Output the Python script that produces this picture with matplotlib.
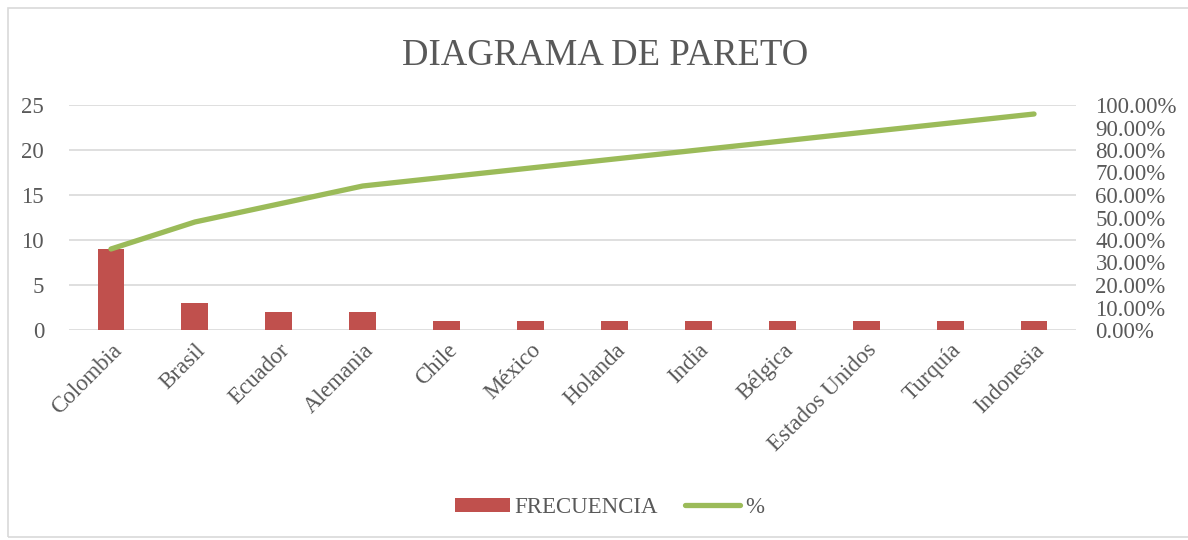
import matplotlib.pyplot as plt
from matplotlib.patches import Rectangle

# Datos del diagrama
paises = ["Colombia", "Brasil", "Ecuador", "Alemania", "Chile", "México",
          "Holanda", "India", "Bélgica", "Estados Unidos", "Turquía", "Indonesia"]
frecuencia = [9, 3, 2, 2, 1, 1, 1, 1, 1, 1, 1, 1]
porcentaje = [0.36, 0.48, 0.56, 0.64, 0.68, 0.72, 0.76, 0.80, 0.84, 0.88, 0.92, 0.96]

gris = "#595959"
plt.rcParams["font.family"] = ["Liberation Serif", "DejaVu Serif"]

fig = plt.figure(figsize=(11.88, 5.4), dpi=100)
fig.patches.append(Rectangle((8 / 1188, 3 / 540), 1.0, 529 / 540, transform=fig.transFigure,
                             fill=False, edgecolor="#D9D9D9", linewidth=1.2))

ax = fig.add_axes([69 / 1188, 210 / 540, 1007 / 1188, 225 / 540])
x = range(len(paises))
ax.bar(x, frecuencia, width=0.32, color="#C0504D", label="FRECUENCIA", zorder=2)
ax.set_ylim(0, 25)
ax.set_xlim(-0.5, len(paises) - 0.5)
ax.set_yticks([0, 5, 10, 15, 20, 25])
ax.grid(axis="y", color="#D9D9D9", linewidth=1.2, zorder=0)
ax.set_xticks(list(x))
ax.set_xticklabels(paises, rotation=45, ha="right", rotation_mode="anchor")
for s in ax.spines.values():
    s.set_visible(False)
ax.tick_params(length=0, labelsize=16.5, colors=gris, pad=7)
ax.tick_params(axis="y", pad=18)

ax2 = ax.twinx()
ax2.plot(x, porcentaje, color="#9BBB59", linewidth=3.8, solid_capstyle="round", label="%", zorder=3)
ax2.set_ylim(0, 1.0)
ax2.set_yticks([i / 10 for i in range(11)])
ax2.set_yticklabels([f"{i * 10:.2f}%" for i in range(11)])
for s in ax2.spines.values():
    s.set_visible(False)
ax2.tick_params(length=0, labelsize=16.5, colors=gris, pad=14)

fig.text(0.509, 0.897, "DIAGRAMA DE PARETO", ha="center", va="center", fontsize=26.5, color=gris)

h1, l1 = ax.get_legend_handles_labels()
h2, l2 = ax2.get_legend_handles_labels()
fig.legend(h1 + h2, l1 + l2, loc="center", bbox_to_anchor=(0.513, 0.06), ncol=2, frameon=False,
           fontsize=16.5, labelcolor=gris, handlelength=2.4, handleheight=0.6,
           handletextpad=0.2, columnspacing=1.2)

fig.savefig("out.png", dpi=100)
